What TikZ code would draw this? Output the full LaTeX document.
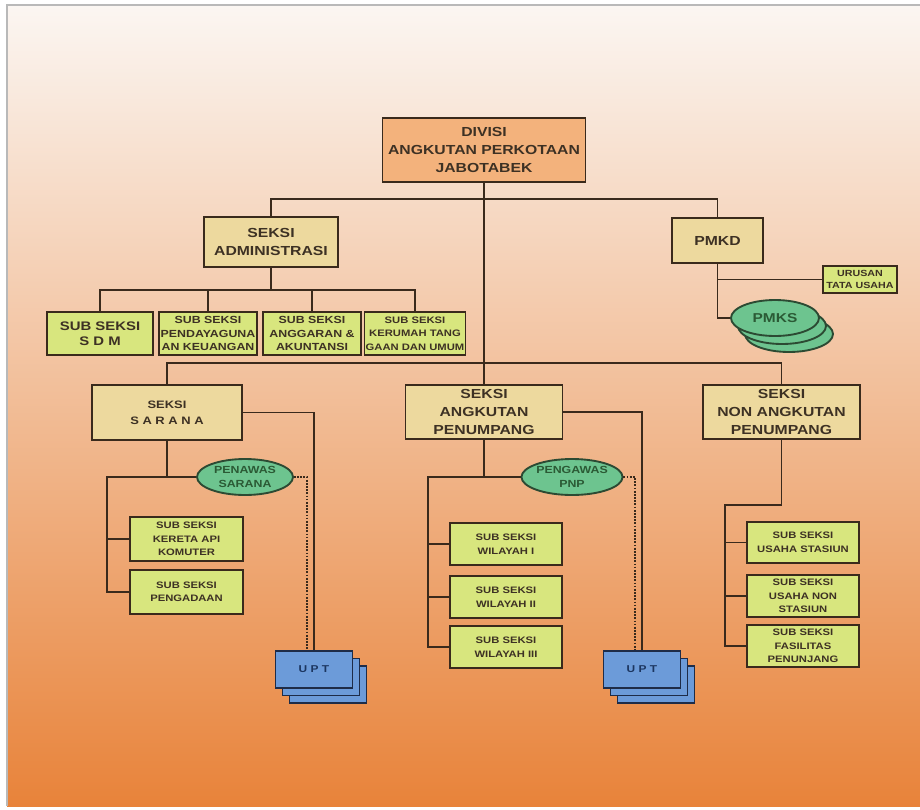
\documentclass[tikz,border=0pt]{standalone}
\usepackage{fontspec}
\setmainfont{Liberation Sans}[FakeStretch=1.2]
\usetikzlibrary{shapes.geometric}

\definecolor{bgTop}{HTML}{FBF6F2}
\definecolor{bgMid}{HTML}{F3CBAD}
\definecolor{bgBottom}{HTML}{E8833A}
\definecolor{inkLine}{HTML}{3A2A1C}
\definecolor{inkText}{HTML}{3D3124}
\definecolor{headFill}{HTML}{F3B27C}
\definecolor{seksiFill}{HTML}{EDD99E}
\definecolor{subFill}{HTML}{D8E67E}
\definecolor{ovalFill}{HTML}{6DC48F}
\definecolor{ovalLine}{HTML}{2C4A33}
\definecolor{ovalText}{HTML}{2B5A35}
\definecolor{uptFill}{HTML}{6C9BD9}
\definecolor{uptLine}{HTML}{1E2C48}
\definecolor{uptText}{HTML}{1C3660}

\newcommand\unitPx{0.03cm}
\newcommand\lineW{1.6pt}
\newcommand\dotGap{0.21cm}
\newcommand\bigText{\fontsize{11.2}{15}\selectfont\bfseries}
\newcommand\midText{\fontsize{9.2}{14}\selectfont\bfseries}
\newcommand\smallText{\fontsize{8}{11.5}\selectfont\bfseries}
\newcommand\adminSubText{\fontsize{8.8}{11.5}\selectfont\bfseries}
\newcommand\subBigText{\fontsize{10.6}{13}\selectfont\bfseries}
\newcommand\tinyText{\fontsize{7.6}{10}\selectfont\bfseries}
\newcommand\ovalFont{\fontsize{8.8}{12}\selectfont\bfseries}
\newcommand\ovalBigFont{\fontsize{11}{13}\selectfont\bfseries}
\newcommand\uptFont{\fontsize{8.5}{10}\selectfont\bfseries}

\begin{document}
\begin{tikzpicture}[x=\unitPx, y=-\unitPx,
    every node/.style={text=inkText, align=center, inner sep=1pt},
    sz/.style 2 args={minimum width=#1*\unitPx, minimum height=#2*\unitPx},
    box/.style={rectangle, draw=inkLine, line width=\lineW},
    headbox/.style={box, fill=headFill, font=\bigText},
    seksibox/.style={box, fill=seksiFill, font=\bigText},
    subbox/.style={box, fill=subFill, font=\smallText},
    oval/.style={ellipse, draw=ovalLine, line width=\lineW, fill=ovalFill, text=ovalText, font=\ovalFont, inner sep=0pt},
    uptbox/.style={box, draw=uptLine, fill=uptFill, text=uptText, font=\uptFont, sz={77}{37}},
    link/.style={draw=inkLine, line width=\lineW},
    dotlink/.style={link, dash pattern=on 1.5pt off 1.2pt}]

    \useasboundingbox (0,0) rectangle (920,810);
    \shade[top color=bgTop, middle color=bgMid, bottom color=bgBottom] (7,5) rectangle (920,806);
    \draw[line width=1pt, gray!55] (7,806) -- (7,5) -- (920,5);

    % top
    \node[headbox, sz={203}{64}] (divisi) at (484,150) {DIVISI\\ANGKUTAN PERKOTAAN\\JABOTABEK};
    \node[seksibox, sz={134}{50}] (admin) at (271,242) {SEKSI\\ADMINISTRASI};
    \node[seksibox, sz={91}{45}] (pmkd) at (717.5,240.5) {PMKD};

    \node[subbox, font=\subBigText, sz={106}{43}] (sdm) at (100,333.5) {SUB SEKSI\\S D M};
    \node[subbox, font=\adminSubText, sz={98}{43}] (daya) at (208,333.5) {SUB SEKSI\\PENDAYAGUNA\\AN KEUANGAN};
    \node[subbox, font=\adminSubText, sz={98}{43}] (anggaran) at (312,333.5) {SUB SEKSI\\ANGGARAN \&\\AKUNTANSI};
    \node[subbox, font=\smallText, sz={98}{43}] (rumah) at (415,333.5) {SUB SEKSI\\KERUMAH TANG\\GAAN DAN UMUM};

    \node[subbox, font=\tinyText, sz={74}{27}] (urusan) at (860,279.5) {URUSAN\\TATA USAHA};
    \foreach \k in {2,1}
      \node[oval, sz={88}{36}] (pmks\k) at (775+7*\k,318+8*\k) {};
    \node[oval, font=\ovalBigFont, sz={88}{36}] (pmks) at (775,318) {PMKS};

    % seksi row
    \node[seksibox, font=\midText, sz={150}{55}] (sarana) at (167,412.5) {SEKSI\\S A R A N A};
    \node[seksibox, sz={157}{54}] (angkut) at (484,412) {SEKSI\\ANGKUTAN\\PENUMPANG};
    \node[seksibox, sz={157}{54}] (nonang) at (781.5,412) {SEKSI\\NON ANGKUTAN\\PENUMPANG};

    \node[oval, sz={96}{36}] (penawas) at (245,477) {PENAWAS\\SARANA};
    \node[oval, sz={98}{36}] (pengawas) at (572,477) {PENGAWAS\\PNP};

    \node[subbox, sz={113}{44}] (kereta) at (186.5,539) {SUB SEKSI\\KERETA API\\KOMUTER};
    \node[subbox, sz={113}{44}] (pengadaan) at (186.5,592) {SUB SEKSI\\PENGADAAN};

    \node[subbox, sz={112}{42}] (wilA) at (506,544) {SUB SEKSI\\WILAYAH I};
    \node[subbox, sz={112}{42}] (wilB) at (506,597) {SUB SEKSI\\WILAYAH II};
    \node[subbox, sz={112}{42}] (wilC) at (506,647) {SUB SEKSI\\WILAYAH III};

    \node[subbox, sz={112}{41}] (usaha) at (803,542.5) {SUB SEKSI\\USAHA STASIUN};
    \node[subbox, sz={112}{42}] (usahanon) at (803,596) {SUB SEKSI\\USAHA NON\\STASIUN};
    \node[subbox, sz={112}{42}] (fasil) at (803,646) {SUB SEKSI\\FASILITAS\\PENUNJANG};

    % UPT stacks
    \foreach \k in {2,1} {
      \node[uptbox] (uptA\k) at (314+7*\k,669.5+7.5*\k) {};
      \node[uptbox] (uptB\k) at (642+7*\k,669.5+7.5*\k) {};
    }
    \node[uptbox] (uptA) at (314,669.5) {U P T};
    \node[uptbox] (uptB) at (642,669.5) {U P T};

    % connectors
    \coordinate (busTop) at (484,199);
    \coordinate (busMain) at (484,363);
    \coordinate (busAdmin) at (271,290);
    \coordinate (spineSarana) at (107,477);
    \coordinate (spineAngkut) at (428,477);
    \coordinate (spineNon) at (725,505);

    \draw[link] (divisi.south) -- (busMain);
    \draw[link] (admin.north) |- (busTop) -| (pmkd.north);
    \draw[link] (sarana.north) |- (busMain) -| (nonang.north);
    \draw[link] (busMain) -- (angkut.north);

    \draw[link] (admin.south) -- (busAdmin);
    \draw[link] (sdm.north) |- (busAdmin) -| (rumah.north);
    \draw[link] (daya.north) -- (daya.north |- busAdmin);
    \draw[link] (anggaran.north) -- (anggaran.north |- busAdmin);

    \draw[link] (pmkd.south) |- (pmks.west);
    \draw[link] (pmkd.south |- urusan.west) -- (urusan.west);

    \draw[link] (sarana.east) -| (uptA.north);
    \draw[link] (sarana.south) |- (penawas.west);
    \draw[link] (sarana.south |- penawas.west) -- (spineSarana) |- (pengadaan.west);
    \draw[link] (spineSarana |- kereta.west) -- (kereta.west);
    \draw[dotlink] (penawas.east) -| ([xshift=-\dotGap]uptA.north);

    \draw[link] (angkut.east) -| (uptB.north);
    \draw[link] (angkut.south) |- (pengawas.west);
    \draw[link] (angkut.south |- pengawas.west) -- (spineAngkut) |- (wilC.west);
    \draw[link] (spineAngkut |- wilA.west) -- (wilA.west);
    \draw[link] (spineAngkut |- wilB.west) -- (wilB.west);
    \draw[dotlink] (pengawas.east) -| ([xshift=-\dotGap]uptB.north);

    \draw[link] (nonang.south) |- (spineNon) |- (fasil.west);
    \draw[link] (spineNon |- usaha.west) -- (usaha.west);
    \draw[link] (spineNon |- usahanon.west) -- (usahanon.west);

\end{tikzpicture}
\end{document}
